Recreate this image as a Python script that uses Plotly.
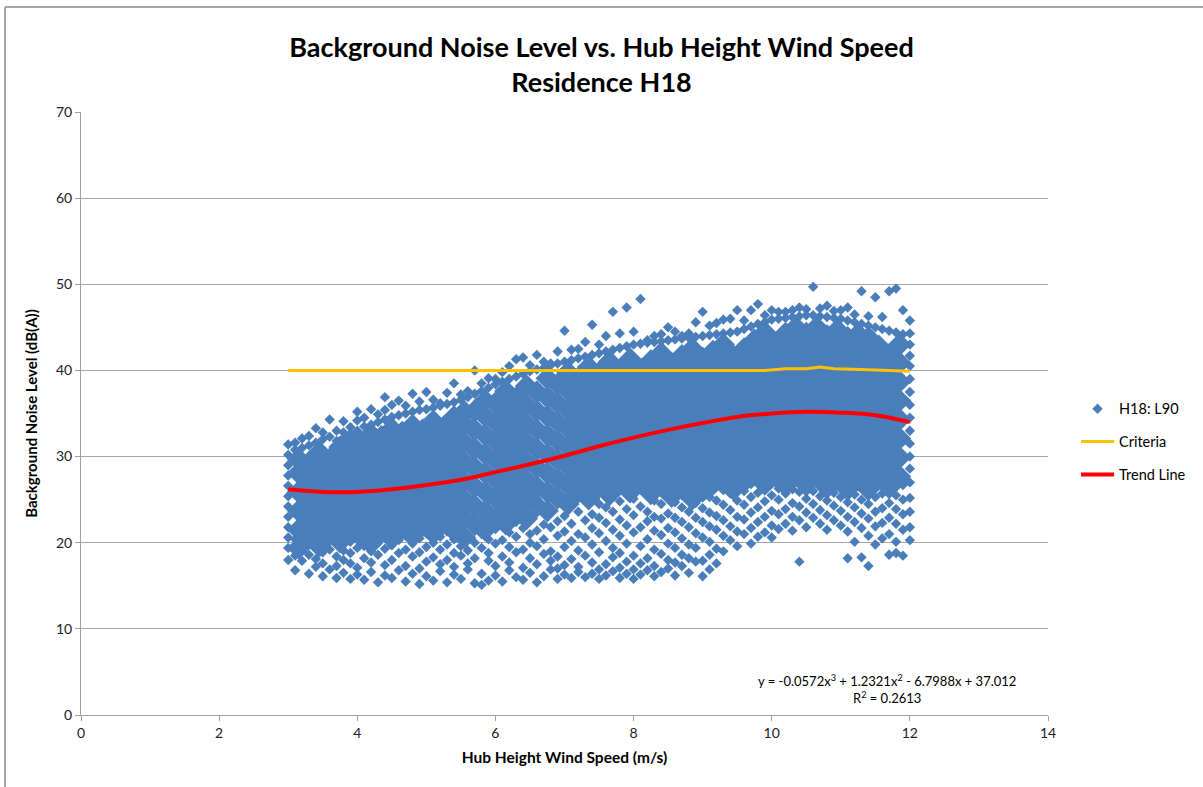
import plotly.graph_objects as go

# ---------------- data ----------------
# Dense core of the H18: L90 cloud (wind speed column -> noise levels)
core_speed = [3.15, 3.30, 3.45, 3.60, 3.75, 3.90, 4.05, 4.20, 4.35, 4.50, 4.65, 4.80, 4.95,
              5.10, 5.25, 5.40, 5.55, 5.70, 5.85, 6.00, 6.15, 6.30, 6.45, 6.60, 6.75, 6.90,
              7.05, 7.20, 7.35, 7.50, 7.65, 7.80, 7.95, 8.10, 8.25, 8.40, 8.55, 8.70, 8.85,
              9.00, 9.15, 9.30, 9.45, 9.60, 9.75, 9.90, 10.05, 10.20, 10.35, 10.50, 10.65,
              10.80, 10.95, 11.10, 11.25, 11.40, 11.55, 11.70, 11.85]
core_noise = [
    [19.4, 21.5, 23.7, 25.9, 28.1, 29.7],
    [20.5, 22.7, 24.9, 27.1, 29.3],
    [19.6, 21.8, 24.0, 26.2, 28.4, 30.5],
    [20.9, 23.1, 25.3, 27.5, 29.7],
    [20.1, 22.3, 24.5, 26.7, 28.9, 31.1],
    [21.5, 23.7, 25.9, 28.1, 30.3, 31.9],
    [20.7, 22.9, 25.1, 27.3, 29.5, 31.7],
    [19.9, 22.1, 24.3, 26.5, 28.7, 30.9, 32.6],
    [21.3, 23.5, 25.7, 27.9, 30.1, 32.3],
    [20.5, 22.7, 24.9, 27.1, 29.3, 31.5, 33.2],
    [21.8, 24.0, 26.2, 28.4, 30.6, 32.8],
    [20.8, 23.0, 25.2, 27.4, 29.6, 31.8, 33.6],
    [22.1, 24.3, 26.5, 28.7, 30.9, 33.1],
    [21.1, 23.3, 25.5, 27.7, 29.9, 32.1, 34.1],
    [22.4, 24.6, 26.8, 29.0, 31.2, 33.4],
    [21.4, 23.6, 25.8, 28.0, 30.2, 32.4, 34.6],
    [20.6, 22.8, 25.0, 27.2, 29.4, 31.6, 33.8, 35.2],
    [22.1, 24.3, 26.5, 28.7, 30.9, 33.1, 35.3],
    [21.5, 23.7, 25.9, 28.1, 30.3, 32.5, 34.7, 36.5],
    [23.0, 25.2, 27.4, 29.6, 31.8, 34.0, 36.2],
    [22.2, 24.4, 26.6, 28.8, 31.0, 33.2, 35.4, 37.6],
    [23.6, 25.8, 28.0, 30.2, 32.4, 34.6, 36.8],
    [22.8, 25.0, 27.2, 29.4, 31.6, 33.8, 36.0, 38.2],
    [24.3, 26.5, 28.7, 30.9, 33.1, 35.3, 37.5],
    [23.7, 25.9, 28.1, 30.3, 32.5, 34.7, 36.9, 39.1],
    [25.2, 27.4, 29.6, 31.8, 34.0, 36.2, 38.4],
    [24.5, 26.7, 28.9, 31.1, 33.3, 35.5, 37.7, 39.8],
    [25.9, 28.1, 30.3, 32.5, 34.7, 36.9, 39.1],
    [25.1, 27.3, 29.5, 31.7, 33.9, 36.1, 38.3, 40.4],
    [26.5, 28.7, 30.9, 33.1, 35.3, 37.5, 39.7],
    [25.6, 27.8, 30.0, 32.2, 34.4, 36.6, 38.8, 41.0],
    [26.8, 29.0, 31.2, 33.4, 35.6, 37.8, 40.0],
    [25.9, 28.1, 30.3, 32.5, 34.7, 36.9, 39.1, 41.3],
    [26.9, 29.1, 31.3, 33.5, 35.7, 37.9, 40.1],
    [25.7, 27.9, 30.1, 32.3, 34.5, 36.7, 38.9, 41.1],
    [26.6, 28.8, 31.0, 33.2, 35.4, 37.6, 39.8, 42.0],
    [25.4, 27.6, 29.8, 32.0, 34.2, 36.4, 38.6, 40.8],
    [26.3, 28.5, 30.7, 32.9, 35.1, 37.3, 39.5, 41.7],
    [25.1, 27.3, 29.5, 31.7, 33.9, 36.1, 38.3, 40.5, 42.5],
    [26.0, 28.2, 30.4, 32.6, 34.8, 37.0, 39.2, 41.4],
    [26.8, 29.0, 31.2, 33.4, 35.6, 37.8, 40.0, 42.2],
    [27.6, 29.8, 32.0, 34.2, 36.4, 38.6, 40.8, 43.0],
    [26.2, 28.4, 30.6, 32.8, 35.0, 37.2, 39.4, 41.6],
    [27.1, 29.3, 31.5, 33.7, 35.9, 38.1, 40.3, 42.5],
    [28.1, 30.3, 32.5, 34.7, 36.9, 39.1, 41.3, 43.5],
    [26.8, 29.0, 31.2, 33.4, 35.6, 37.8, 40.0, 42.2, 44.4],
    [27.8, 30.0, 32.2, 34.4, 36.6, 38.8, 41.0, 43.2],
    [26.7, 28.9, 31.1, 33.3, 35.5, 37.7, 39.9, 42.1, 44.3],
    [27.8, 30.0, 32.2, 34.4, 36.6, 38.8, 41.0, 43.2, 45.0],
    [26.7, 28.9, 31.1, 33.3, 35.5, 37.7, 39.9, 42.1, 44.3],
    [27.7, 29.9, 32.1, 34.3, 36.5, 38.7, 40.9, 43.1, 45.0],
    [26.4, 28.6, 30.8, 33.0, 35.2, 37.4, 39.6, 41.8, 44.0],
    [27.4, 29.6, 31.8, 34.0, 36.2, 38.4, 40.6, 42.8, 44.7],
    [26.2, 28.4, 30.6, 32.8, 35.0, 37.2, 39.4, 41.6, 43.8],
    [27.3, 29.5, 31.7, 33.9, 36.1, 38.3, 40.5, 42.7, 44.2],
    [26.2, 28.4, 30.6, 32.8, 35.0, 37.2, 39.4, 41.6, 43.8],
    [27.4, 29.6, 31.8, 34.0, 36.2, 38.4, 40.6, 42.8],
    [26.4, 28.6, 30.8, 33.0, 35.2, 37.4, 39.6, 41.8],
    [27.7, 29.9, 32.1, 34.3, 36.5, 38.7, 40.9, 43.0],
]

# Scattered H18: L90 points around the core (wind speed column -> noise levels)
edge_speed = [round(3.0 + 0.1 * i, 1) for i in range(91)]
edge_noise = [
    [18.0, 19.4, 20.6, 21.8, 23.0, 24.2, 25.4, 26.6, 27.8, 29.0, 30.2, 31.4],
    [16.8, 18.5, 19.6, 20.4, 30.8, 31.6],
    [17.9, 19.0, 20.1, 28.8, 31.0, 32.1],
    [16.4, 18.6, 19.8, 20.9, 31.3, 32.4],
    [17.2, 18.1, 19.5, 20.6, 31.6, 33.3],
    [16.1, 17.6, 18.9, 20.2, 21.0, 32.0, 32.8],
    [16.9, 19.2, 20.5, 32.3, 34.3],
    [15.9, 17.3, 18.4, 19.9, 21.3, 31.8, 33.0],
    [16.5, 18.0, 19.1, 20.6, 32.1, 32.8, 34.1],
    [15.8, 17.6, 18.8, 20.1, 21.6, 33.4],
    [16.3, 17.1, 19.4, 20.8, 22.0, 33.0, 34.2, 35.2],
    [15.7, 18.2, 19.6, 21.0, 33.5, 34.5],
    [16.6, 17.7, 19.0, 20.4, 21.8, 33.7, 35.5],
    [15.4, 18.6, 20.0, 21.3, 22.4, 34.0, 34.9],
    [16.2, 17.4, 19.3, 20.7, 22.0, 34.3, 35.4, 36.9],
    [15.9, 18.0, 19.7, 21.1, 22.6, 34.6, 36.0],
    [16.8, 18.8, 20.3, 21.6, 22.9, 34.8, 36.5],
    [15.5, 17.3, 19.2, 20.8, 22.2, 35.0, 35.9],
    [16.4, 18.4, 19.9, 21.4, 23.0, 35.2, 37.3],
    [15.2, 17.0, 18.9, 20.5, 22.0, 23.3, 35.4, 36.4],
    [16.1, 17.8, 19.5, 21.1, 22.6, 35.5, 37.5],
    [15.6, 18.3, 20.0, 21.7, 23.1, 35.7, 36.6],
    [16.7, 17.5, 19.2, 20.7, 22.3, 23.6, 35.9, 36.2],
    [15.4, 18.0, 19.8, 21.3, 22.8, 36.1, 37.4],
    [16.3, 17.2, 18.8, 20.4, 22.0, 23.4, 36.3, 38.5],
    [15.8, 18.5, 19.6, 21.2, 22.7, 24.0, 36.6, 37.2],
    [16.9, 17.6, 19.1, 20.8, 22.3, 23.7, 36.9, 37.6],
    [15.3, 18.2, 20.0, 21.5, 23.0, 24.4, 37.3, 40.0],
    [15.1, 16.4, 19.4, 21.0, 22.6, 24.1, 37.6, 38.5],
    [15.6, 17.9, 18.8, 20.4, 22.1, 23.6, 25.0, 38.0, 39.1],
    [16.2, 17.3, 19.9, 21.6, 23.2, 24.6, 38.4, 39.0],
    [15.5, 18.4, 20.3, 22.0, 23.8, 25.2, 38.7, 39.8],
    [16.8, 17.7, 19.5, 21.2, 22.9, 24.5, 39.0, 40.5],
    [16.0, 18.9, 20.7, 22.4, 24.0, 25.5, 39.3, 41.3],
    [15.7, 17.1, 19.2, 21.7, 23.3, 24.9, 39.6, 41.5],
    [16.5, 18.2, 20.0, 21.0, 22.7, 24.3, 25.8, 39.9, 40.6],
    [15.4, 17.5, 19.6, 21.4, 23.5, 25.1, 40.1, 41.8],
    [16.1, 18.7, 20.4, 22.1, 24.0, 26.2, 40.3, 41.0],
    [16.9, 17.9, 19.0, 21.8, 23.7, 25.4, 40.6, 40.8],
    [15.8, 17.0, 18.4, 20.8, 22.5, 24.6, 26.7, 40.8, 42.2],
    [16.3, 17.4, 19.5, 21.3, 23.1, 25.0, 27.0, 41.0, 44.6],
    [15.9, 18.1, 20.2, 22.2, 24.3, 26.0, 41.2, 42.4],
    [16.6, 17.2, 19.1, 21.0, 23.6, 25.6, 27.4, 41.4, 42.5],
    [16.0, 18.5, 20.6, 22.6, 24.8, 26.7, 41.6, 43.3],
    [16.4, 17.7, 19.8, 21.7, 23.3, 25.3, 27.8, 41.8, 45.3],
    [15.8, 16.9, 18.9, 21.1, 22.9, 24.5, 26.4, 42.0, 43.0],
    [16.2, 17.5, 20.2, 22.3, 24.1, 26.0, 28.1, 42.2, 44.0],
    [16.7, 18.3, 19.4, 21.5, 23.6, 25.4, 27.2, 42.4, 46.8],
    [15.9, 17.1, 18.8, 20.8, 22.7, 24.8, 26.6, 28.5, 42.6, 44.3],
    [16.4, 17.8, 19.9, 22.0, 23.9, 25.9, 27.7, 42.8, 47.3],
    [15.8, 16.9, 18.5, 21.2, 23.2, 25.1, 27.0, 28.8, 43.0, 44.5],
    [16.3, 17.6, 19.6, 21.8, 24.2, 26.3, 28.1, 43.1, 48.3],
    [16.8, 18.2, 20.4, 22.5, 23.6, 25.6, 27.5, 43.2, 43.5],
    [16.1, 17.3, 19.2, 21.4, 23.0, 24.9, 26.8, 28.6, 43.3, 44.0],
    [16.6, 18.7, 20.9, 22.8, 24.5, 26.2, 27.9, 43.4, 44.2],
    [17.0, 18.0, 19.9, 21.7, 23.4, 25.3, 27.2, 43.5, 45.0],
    [16.2, 17.7, 19.4, 21.2, 22.9, 24.7, 26.5, 28.2, 43.6, 44.5],
    [17.3, 18.6, 20.5, 22.4, 24.1, 25.9, 27.7, 43.7, 44.0],
    [16.5, 18.2, 19.8, 21.8, 23.6, 25.2, 27.0, 43.8, 44.3],
    [17.8, 19.4, 21.1, 22.9, 24.6, 26.4, 27.9, 43.9, 45.6],
    [16.1, 17.9, 20.6, 22.4, 24.0, 25.8, 27.4, 44.0, 46.8],
    [16.9, 18.6, 20.1, 21.9, 23.5, 25.3, 27.1, 44.1, 45.2],
    [17.6, 19.3, 21.5, 23.1, 24.9, 26.6, 44.2, 45.5],
    [19.0, 20.8, 22.6, 24.4, 26.1, 27.6, 44.3, 45.9],
    [20.3, 21.9, 23.8, 25.7, 27.2, 44.4, 46.0],
    [19.6, 21.3, 23.0, 24.9, 26.5, 44.5, 47.0],
    [21.0, 22.7, 24.4, 26.0, 27.4, 44.8, 45.8],
    [19.9, 21.7, 23.5, 25.3, 26.8, 45.1, 47.0],
    [20.7, 22.4, 24.1, 25.8, 45.4, 47.7],
    [21.2, 23.0, 24.8, 26.4, 45.6, 46.4],
    [20.6, 22.0, 23.7, 25.5, 26.9, 45.9, 47.0],
    [21.6, 23.3, 25.0, 26.3, 46.0, 46.8],
    [22.2, 23.9, 25.7, 46.1, 46.8],
    [21.4, 23.0, 24.6, 26.2, 46.2, 47.0],
    [17.8, 22.6, 24.2, 25.9, 46.3, 47.3],
    [21.8, 23.5, 25.1, 26.6, 46.4, 47.1],
    [22.9, 24.5, 26.0, 46.4, 49.7],
    [22.2, 23.8, 25.4, 26.8, 46.3, 47.2],
    [21.5, 23.2, 24.9, 26.3, 46.2, 47.5],
    [22.6, 24.3, 25.8, 46.1, 46.9],
    [22.0, 23.7, 25.3, 26.6, 46.0, 47.0],
    [18.2, 21.3, 23.0, 24.7, 26.2, 45.8, 47.3],
    [20.1, 22.4, 24.1, 25.6, 45.6, 46.5],
    [18.3, 21.7, 23.4, 25.0, 26.4, 45.4, 49.2],
    [17.3, 20.8, 22.8, 24.5, 26.0, 45.2, 46.3],
    [19.8, 21.9, 23.6, 25.3, 45.0, 48.5],
    [20.5, 22.3, 24.0, 25.7, 44.8, 46.2],
    [18.6, 21.0, 22.9, 24.6, 26.2, 44.6, 49.2],
    [18.8, 20.1, 22.2, 23.9, 25.5, 44.4, 49.5],
    [18.5, 21.5, 23.3, 25.0, 26.7, 44.2, 47.0],
    [20.3, 21.8, 23.6, 25.2, 27.0, 28.6, 30.0, 31.5, 33.0, 34.5, 36.0, 37.5,
     39.0, 40.5, 41.7, 43.0, 44.3, 45.8],
]

criteria_speed = [3, 4, 5, 6, 7, 8, 9, 9.9, 10.2, 10.5, 10.7, 10.9, 11.3, 11.7, 12]
criteria_level = [40, 40, 40, 40, 40, 40, 40, 40, 40.2, 40.2, 40.4, 40.2, 40.1, 40.0, 39.9]

trend_speed = [3, 3.5, 4, 4.5, 5, 5.5, 6, 6.5, 7, 7.5, 8, 8.5, 9, 9.5, 10, 10.5, 11, 11.5, 12]
trend_level = [26.2, 25.9, 25.9, 26.2, 26.7, 27.3, 28.2, 29.1, 30.1, 31.2, 32.2, 33.1,
               33.9, 34.6, 35.0, 35.2, 35.1, 34.8, 34.0]

x_ticks = [0, 2, 4, 6, 8, 10, 12, 14]
y_ticks = [0, 10, 20, 30, 40, 50, 60, 70]

title_text = "Background Noise Level vs. Hub Height Wind Speed<br>Residence H18"
equation_text = "y = -0.0572x<sup>3</sup> + 1.2321x<sup>2</sup> - 6.7988x + 37.012<br>R<sup>2</sup> = 0.2613"

# ---------------- build figure ----------------
FONT = "Lato"
BLUE = "#4A7EBB"

cx, cy = [], []
for s, ys in zip(core_speed, core_noise):
    cx += [s] * len(ys)
    cy += ys
ex, ey = [], []
for s, ys in zip(edge_speed, edge_noise):
    ex += [s] * len(ys)
    ey += ys

fig = go.Figure()
fig.add_trace(go.Scatter(x=cx, y=cy, mode="markers", name="H18: L90", legendgroup="h18",
                         showlegend=False, hoverinfo="skip",
                         marker=dict(symbol="diamond", size=18, color=BLUE, line=dict(width=0))))
fig.add_trace(go.Scatter(x=ex, y=ey, mode="markers", name="H18: L90", legendgroup="h18",
                         marker=dict(symbol="diamond", size=8, color=BLUE, line=dict(width=0))))
fig.add_trace(go.Scatter(x=criteria_speed, y=criteria_level, mode="lines", name="Criteria",
                         legendgroup="crit", line=dict(color="#FFC000", width=3)))
fig.add_trace(go.Scatter(x=trend_speed, y=trend_level, mode="lines", name="Trend Line",
                         legendgroup="trend",
                         line=dict(color="#FF0000", width=4, shape="spline")))

axis_font = dict(family=FONT, size=14, color="#222222")
fig.update_layout(
    width=1203, height=787,
    margin=dict(l=81, r=155, t=112, b=72),
    paper_bgcolor="white", plot_bgcolor="white",
    font=dict(family=FONT, color="#000000"),
    title=dict(text=title_text, x=0.5, xref="container", xanchor="center",
               y=1 - 57 / 787, yref="container", yanchor="middle",
               font=dict(family=FONT, size=27, color="#000000", weight="bold")),
    showlegend=True,
    legend=dict(x=1.029, y=0.453, xanchor="left", yanchor="middle",
                font=dict(family=FONT, size=14.5, color="#000000"),
                tracegroupgap=11, itemwidth=33, bgcolor="rgba(0,0,0,0)"),
    xaxis=dict(range=[0, 14], tickvals=x_ticks, ticktext=[str(v) for v in x_ticks],
               showgrid=False, zeroline=False, showline=True, linecolor="#A0A0A0", linewidth=1,
               ticks="outside", ticklen=5, tickcolor="#A0A0A0", tickfont=axis_font,
               title=dict(text="<b>Hub Height Wind Speed (m/s)</b>", standoff=12,
                          font=dict(family=FONT, size=15.5, color="#000000"))),
    yaxis=dict(range=[0, 70], tickvals=y_ticks, ticktext=[str(v) for v in y_ticks],
               showgrid=True, gridcolor="#A6A6A6", gridwidth=1, zeroline=False,
               showline=True, linecolor="#A0A0A0", linewidth=1,
               ticks="outside", ticklen=5, tickcolor="#A0A0A0", tickfont=axis_font,
               title=dict(text="<b>Background Noise Level (dB(A))</b>", standoff=14,
                          font=dict(family=FONT, size=15, color="#000000"))),
)

fig.add_annotation(text=equation_text, xref="paper", yref="paper", x=0.833, y=0.043,
                   xanchor="center", yanchor="middle", showarrow=False, align="center",
                   font=dict(family=FONT, size=13, color="#000000"))

# outer chart border (top and left visible)
fig.add_shape(type="line", xref="paper", yref="paper", x0=(5 - 81) / 967, x1=1.3,
              y0=(715 - 7) / 603, y1=(715 - 7) / 603, line=dict(color="#A6A6A6", width=2))
fig.add_shape(type="line", xref="paper", yref="paper", x0=(5 - 81) / 967, x1=(5 - 81) / 967,
              y0=(715 - 7) / 603, y1=-0.2, line=dict(color="#A6A6A6", width=2))

fig.write_html("out.html")
